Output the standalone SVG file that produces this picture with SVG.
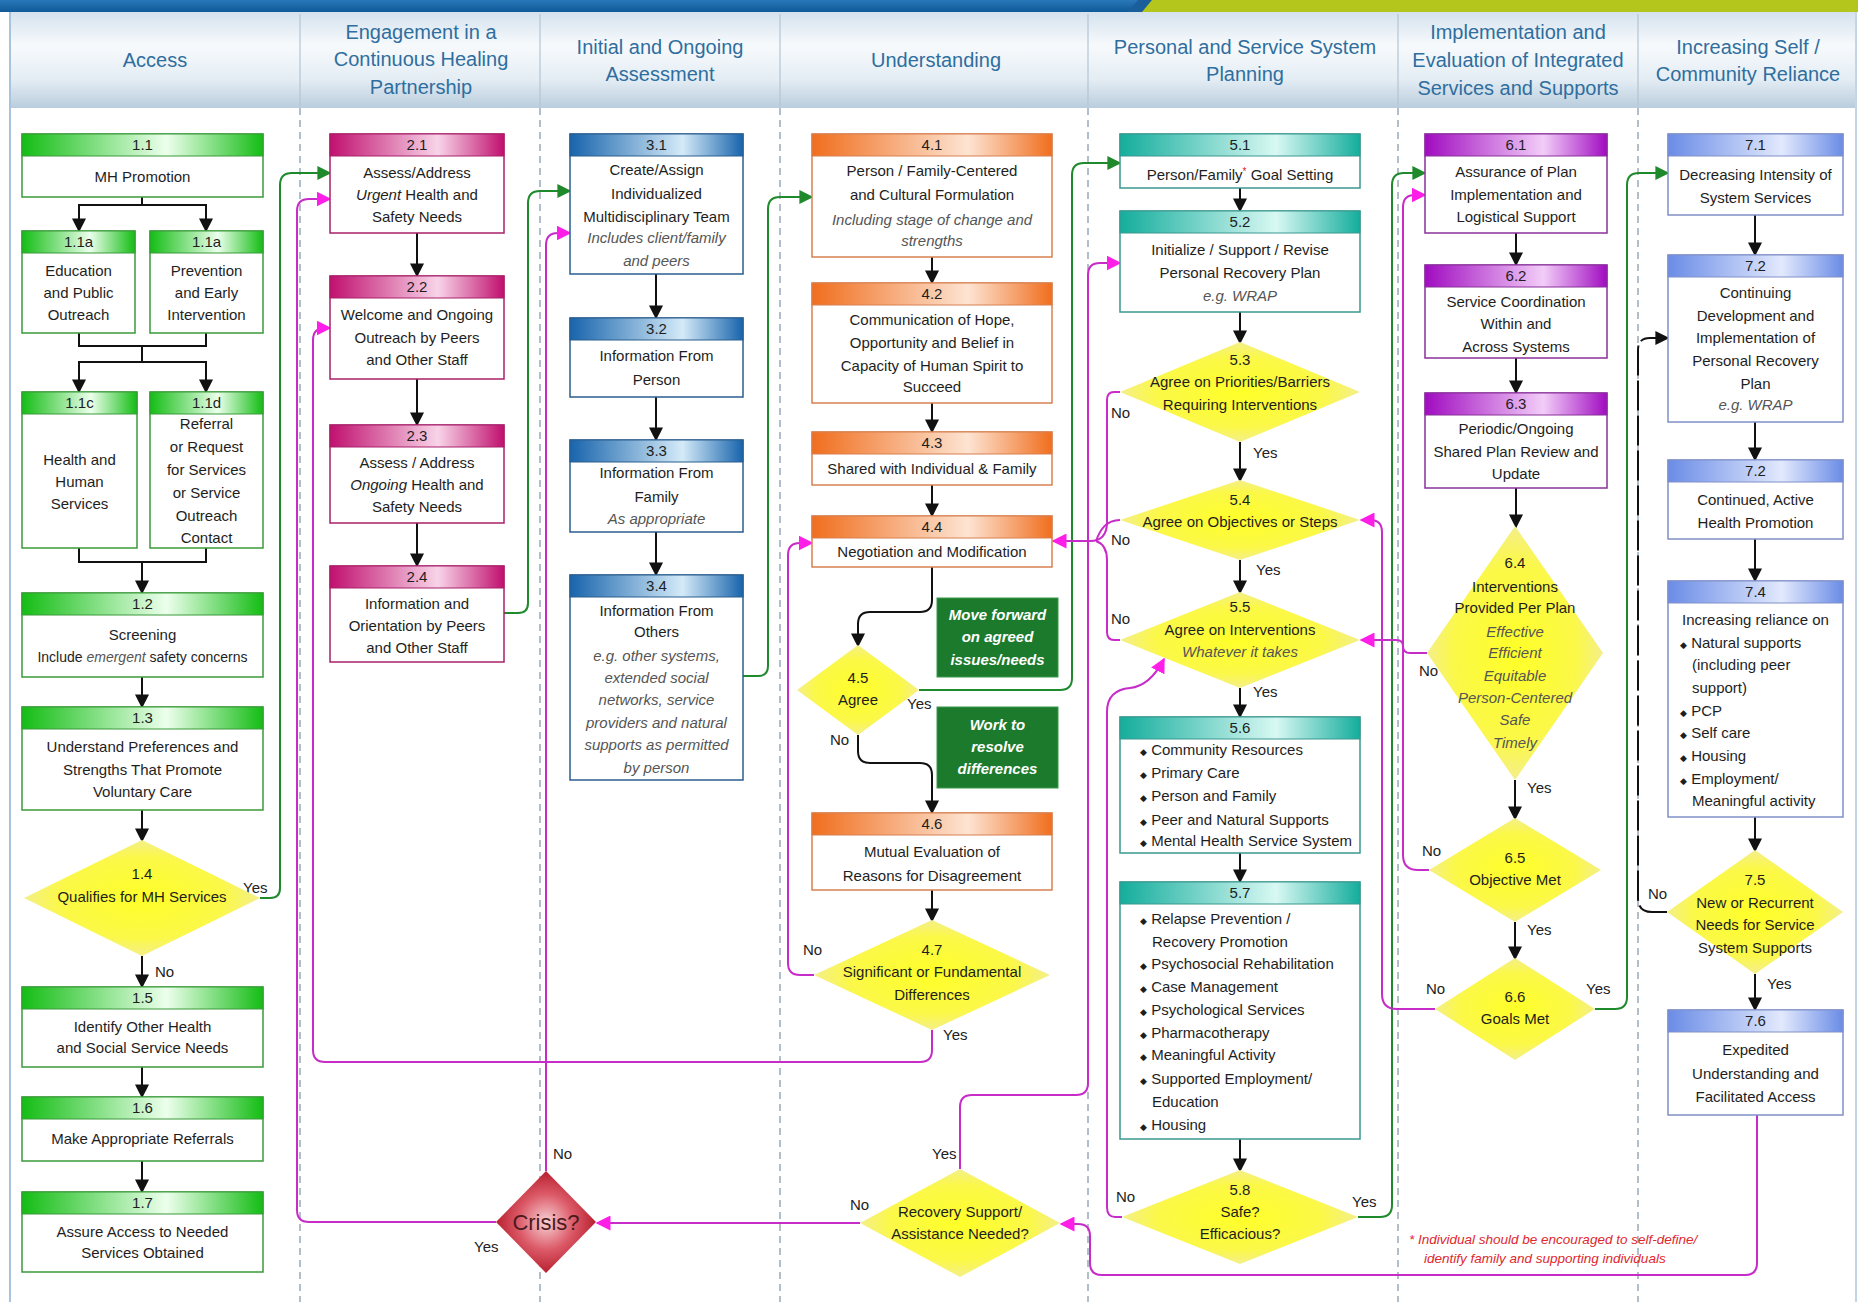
<svg xmlns="http://www.w3.org/2000/svg" width="1858" height="1302" viewBox="0 0 1858 1302">
<defs>
<linearGradient id="gHead" x1="0" y1="0" x2="0" y2="1"><stop offset="0" stop-color="#d4e2ee"/><stop offset="0.35" stop-color="#f7fafc"/><stop offset="0.7" stop-color="#e4edf4"/><stop offset="1" stop-color="#b9cddd"/></linearGradient>
<linearGradient id="gTop" x1="0" y1="0" x2="0" y2="1"><stop offset="0" stop-color="#2a78b8"/><stop offset="1" stop-color="#0f5a98"/></linearGradient>
<linearGradient id="gG" x1="0" y1="0" x2="1" y2="0"><stop offset="0" stop-color="#14bd14"/><stop offset="0.6" stop-color="#ecffec"/><stop offset="1" stop-color="#14bd14"/></linearGradient>
<linearGradient id="gM" x1="0" y1="0" x2="1" y2="0"><stop offset="0" stop-color="#c0106e"/><stop offset="0.62" stop-color="#f8d4e8"/><stop offset="1" stop-color="#c0106e"/></linearGradient>
<linearGradient id="gB" x1="0" y1="0" x2="1" y2="0"><stop offset="0" stop-color="#1864ac"/><stop offset="0.65" stop-color="#d4eaf8"/><stop offset="1" stop-color="#1864ac"/></linearGradient>
<linearGradient id="gO" x1="0" y1="0" x2="1" y2="0"><stop offset="0" stop-color="#f06e1e"/><stop offset="0.65" stop-color="#fde4d2"/><stop offset="1" stop-color="#f06e1e"/></linearGradient>
<linearGradient id="gT" x1="0" y1="0" x2="1" y2="0"><stop offset="0" stop-color="#14ad9c"/><stop offset="0.65" stop-color="#d8f8f3"/><stop offset="1" stop-color="#14ad9c"/></linearGradient>
<linearGradient id="gP" x1="0" y1="0" x2="1" y2="0"><stop offset="0" stop-color="#a00cc0"/><stop offset="0.65" stop-color="#f2cdf8"/><stop offset="1" stop-color="#a00cc0"/></linearGradient>
<linearGradient id="gL" x1="0" y1="0" x2="1" y2="0"><stop offset="0" stop-color="#6a8ce6"/><stop offset="0.65" stop-color="#e2e9fd"/><stop offset="1" stop-color="#6a8ce6"/></linearGradient>
<radialGradient id="gY" cx="0.5" cy="0.5" r="0.5"><stop offset="0" stop-color="#ffff28"/><stop offset="0.7" stop-color="#fbf848"/><stop offset="1" stop-color="#f4ef8a"/></radialGradient>
<radialGradient id="gR" cx="0.5" cy="0.5" r="0.5"><stop offset="0" stop-color="#f7d2d6"/><stop offset="0.55" stop-color="#dc5a68"/><stop offset="1" stop-color="#b8202f"/></radialGradient>
<marker id="ak" viewBox="0 0 10 10" refX="9" refY="5" markerWidth="14" markerHeight="14" markerUnits="userSpaceOnUse" orient="auto"><path d="M0,0 L10,5 L0,10 z" fill="#111"/></marker>
<marker id="ag" viewBox="0 0 10 10" refX="9" refY="5" markerWidth="14" markerHeight="14" markerUnits="userSpaceOnUse" orient="auto"><path d="M0,0 L10,5 L0,10 z" fill="#1e8a2c"/></marker>
<marker id="am" viewBox="0 0 10 10" refX="9" refY="5" markerWidth="15" markerHeight="15" markerUnits="userSpaceOnUse" orient="auto"><path d="M0,0 L10,5 L0,10 z" fill="#ff1ee8"/></marker>
<style>
.t{font-family:"Liberation Sans",Arial,sans-serif;font-size:15px;fill:#1e1e1e;text-anchor:middle}
.s{text-anchor:start}
.i{font-style:italic;fill:#555}
.h{font-family:"Liberation Sans",Arial,sans-serif;font-size:20px;fill:#2f6e9e;text-anchor:middle}
.lb{font-family:"Liberation Sans",Arial,sans-serif;font-size:15px;fill:#222}
.w{font-family:"Liberation Sans",Arial,sans-serif;font-size:15px;fill:#fff;font-weight:bold;font-style:italic;text-anchor:middle}
.fn{font-family:"Liberation Sans",Arial,sans-serif;font-size:13.5px;fill:#e0282c;font-style:italic}
.bx{fill:#fff;stroke-width:1.5}
.cg{stroke:#3a9a3a}.cm{stroke:#a8206a}.cb{stroke:#2a5e8e}.co{stroke:#d88050}.ct{stroke:#3a9890}.cp{stroke:#8a309a}.cl{stroke:#8090c8}
.dm{fill:url(#gY);stroke:none}
.sep{stroke:#9aa9bb;stroke-width:1.5;stroke-dasharray:7 5}
.k{fill:none;stroke:#111;stroke-width:2;marker-end:url(#ak)}
.kn{fill:none;stroke:#111;stroke-width:2}
.g{fill:none;stroke:#1e8a2c;stroke-width:2;marker-end:url(#ag)}
.m{fill:none;stroke:#c82cc8;stroke-width:2;marker-end:url(#am)}
.mn{fill:none;stroke:#c82cc8;stroke-width:2}
.bul{font-size:9px}
</style>
</defs>
<rect x="0" y="0" width="1858" height="1302" fill="#ffffff"/>
<g id="frame">
<rect x="0" y="0" width="1145" height="12" fill="url(#gTop)"/>
<polygon points="1145,0 1858,0 1858,12 1135,12" fill="#b4c61c"/>
<polygon points="1138,0 1152,0 1142,12 1128,12" fill="#1a5f9c"/>
<rect x="10" y="12" width="1846" height="96" fill="url(#gHead)"/>
<line x1="10" y1="12" x2="10" y2="1302" stroke="#a8c4dc" stroke-width="2"/>
<line x1="1856" y1="12" x2="1856" y2="1302" stroke="#c4d6e6" stroke-width="2"/>
<g stroke="#b4c4d4" stroke-width="1.2">
<line x1="300" y1="14" x2="300" y2="106"/><line x1="540" y1="14" x2="540" y2="106"/><line x1="780" y1="14" x2="780" y2="106"/><line x1="1088" y1="14" x2="1088" y2="106"/><line x1="1398" y1="14" x2="1398" y2="106"/><line x1="1638" y1="14" x2="1638" y2="106"/>
</g>
<line class="sep" x1="300" y1="108" x2="300" y2="1302"/><line class="sep" x1="540" y1="108" x2="540" y2="1302"/><line class="sep" x1="780" y1="108" x2="780" y2="1302"/><line class="sep" x1="1088" y1="108" x2="1088" y2="1302"/><line class="sep" x1="1398" y1="108" x2="1398" y2="1302"/><line class="sep" x1="1638" y1="108" x2="1638" y2="1302"/>
<text class="h" x="155" y="67">Access</text>
<text class="h" x="421" y="39">Engagement in a</text><text class="h" x="421" y="66">Continuous Healing</text><text class="h" x="421" y="94">Partnership</text>
<text class="h" x="660" y="54">Initial and Ongoing</text><text class="h" x="660" y="81">Assessment</text>
<text class="h" x="936" y="67">Understanding</text>
<text class="h" x="1245" y="54">Personal and Service System</text><text class="h" x="1245" y="81">Planning</text>
<text class="h" x="1518" y="39">Implementation and</text><text class="h" x="1518" y="67">Evaluation of Integrated</text><text class="h" x="1518" y="95">Services and Supports</text>
<text class="h" x="1748" y="54">Increasing Self /</text><text class="h" x="1748" y="81">Community Reliance</text>
</g>

<g id="connectors">
<path class="k" d="M142,197 V205 H79 V231"/>
<path class="k" d="M142,205 H206 V231"/>
<path class="kn" d="M79,333 V346 H142 M206,333 V346 H142 M142,346 V362"/>
<path class="k" d="M142,362 H79 V392"/>
<path class="k" d="M142,362 H206 V392"/>
<path class="kn" d="M79,548 V562 H142 M206,548 V562 H142"/>
<path class="k" d="M142,562 V593"/>
<path class="k" d="M142,677 V707"/>
<path class="k" d="M142,810 V841"/>
<path class="k" d="M142,956 V987"/>
<path class="k" d="M142,1067 V1097"/>
<path class="k" d="M142,1161 V1192"/>
<path class="k" d="M417,233 V276"/>
<path class="k" d="M417,379 V425"/>
<path class="k" d="M417,523 V566"/>
<path class="k" d="M656,274 V318"/>
<path class="k" d="M656,397 V440"/>
<path class="k" d="M656,532 V575"/>
<path class="k" d="M932,257 V283"/>
<path class="k" d="M932,403 V432"/>
<path class="k" d="M932,485 V516"/>
<path class="k" d="M932,567 V600 Q932,612 920,612 H870 Q858,612 858,624 V646"/>
<path class="k" d="M858,735 V751 Q858,763 870,763 H920 Q932,763 932,775 V813"/>
<path class="k" d="M932,890 V921"/>
<path class="k" d="M1240,188 V211"/>
<path class="k" d="M1240,312 V343"/>
<path class="k" d="M1240,442 V481"/>
<path class="k" d="M1240,560 V593"/>
<path class="k" d="M1240,688 V717"/>
<path class="k" d="M1240,853 V882"/>
<path class="k" d="M1240,1139 V1171"/>
<path class="k" d="M1516,233 V265"/>
<path class="k" d="M1516,358 V393"/>
<path class="k" d="M1516,488 V527"/>
<path class="k" d="M1515,780 V819"/>
<path class="k" d="M1515,922 V959"/>
<path class="k" d="M1755,215 V255"/>
<path class="k" d="M1755,422 V460"/>
<path class="k" d="M1755,539 V581"/>
<path class="k" d="M1755,817 V851"/>
<path class="k" d="M1755,974 V1010"/>
<path class="k" d="M1667,912 H1652 Q1638,912 1638,898 V350 Q1638,338 1650,338 H1668" stroke-dasharray="30 5"/>
<path class="g" d="M260,898 H270 Q280,898 280,888 V185 Q280,173 292,173 H330"/>
<path class="g" d="M504,613 H518 Q528,613 528,603 V203 Q528,191 540,191 H570"/>
<path class="g" d="M743,676 H758 Q768,676 768,666 V209 Q768,197 780,197 H812"/>
<path class="g" d="M919,690 H1060 Q1072,690 1072,678 V175 Q1072,163 1084,163 H1120"/>
<path class="g" d="M1358,1217 H1380 Q1392,1217 1392,1205 V185 Q1392,173 1404,173 H1425"/>
<path class="g" d="M1595,1009 H1615 Q1627,1009 1627,997 V185 Q1627,173 1639,173 H1668"/>
<path class="m" d="M932,1030 V1050 Q932,1062 920,1062 H325 Q313,1062 313,1050 V340 Q313,328 325,328 H330"/>
<path class="m" d="M496,1222 H309 Q297,1222 297,1210 V211 Q297,199 309,199 H330"/>
<path class="m" d="M546,1171 V245 Q546,233 558,233 H570"/>
<path class="m" d="M860,1223 H597"/>
<path class="m" d="M814,975 H800 Q788,975 788,963 V555 Q788,543 800,543 H812"/>
<path class="m" d="M960,1169 V1107 Q960,1095 972,1095 H1076 Q1088,1095 1088,1083 V275 Q1088,263 1100,263 H1120"/>
<path class="m" d="M1757,1115 V1263 Q1757,1275 1745,1275 H1102 Q1090,1275 1090,1263 V1236 Q1090,1224 1078,1224 H1061"/>
<path class="m" d="M1120,392 H1114 Q1107,392 1107,400 V522 Q1107,541 1090,541 H1053"/>
<path class="mn" d="M1120,520 C1106,520 1100,530 1096,541"/>
<path class="mn" d="M1120,640 H1114 Q1107,640 1107,632 V560 Q1107,545 1096,541"/>
<path class="m" d="M1122,1217 H1115 Q1107,1217 1107,1207 V712 Q1107,690 1130,688 Q1150,686 1164,659"/>
<path class="m" d="M1435,1009 H1397 Q1382,1009 1382,994 V532 Q1382,520 1370,520 H1361"/>
<path class="m" d="M1427,653 H1410 Q1403,653 1403,646 Q1403,640 1396,640 H1361"/>
<path class="m" d="M1429,870 H1418 Q1403,870 1403,855 V207 Q1403,195 1415,195 H1425"/>
</g>

<g id="labels">
<text class="lb" x="243" y="893">Yes</text>
<text class="lb" x="155" y="977">No</text>
<text class="lb" x="553" y="1159">No</text>
<text class="lb" x="474" y="1252">Yes</text>
<text class="lb" x="850" y="1210">No</text>
<text class="lb" x="932" y="1159">Yes</text>
<text class="lb" x="803" y="955">No</text>
<text class="lb" x="943" y="1040">Yes</text>
<text class="lb" x="907" y="709">Yes</text>
<text class="lb" x="830" y="745">No</text>
<text class="lb" x="1111" y="418">No</text>
<text class="lb" x="1253" y="458">Yes</text>
<text class="lb" x="1111" y="545">No</text>
<text class="lb" x="1256" y="575">Yes</text>
<text class="lb" x="1111" y="624">No</text>
<text class="lb" x="1253" y="697">Yes</text>
<text class="lb" x="1116" y="1202">No</text>
<text class="lb" x="1352" y="1207">Yes</text>
<text class="lb" x="1419" y="676">No</text>
<text class="lb" x="1527" y="793">Yes</text>
<text class="lb" x="1422" y="856">No</text>
<text class="lb" x="1527" y="935">Yes</text>
<text class="lb" x="1426" y="994">No</text>
<text class="lb" x="1586" y="994">Yes</text>
<text class="lb" x="1648" y="899">No</text>
<text class="lb" x="1767" y="989">Yes</text>
<text class="fn" x="1409" y="1244">* Individual should be encouraged to self-define/</text>
<text class="fn" x="1424" y="1263">identify family and supporting individuals</text>
</g>

<g id="n1-1"><rect class="bx cg" x="22" y="134" width="241" height="63"/><rect x="22" y="134" width="241" height="22" fill="url(#gG)" stroke="#3a9a3a"/><text class="t" x="142.5" y="150">1.1</text><text class="t" x="142.5" y="182">MH Promotion</text></g>
<g id="n1-1a"><rect class="bx cg" x="22" y="231" width="113" height="102"/><rect x="22" y="231" width="113" height="22" fill="url(#gG)" stroke="#3a9a3a"/><text class="t" x="78.5" y="247">1.1a</text><text class="t" x="78.5" y="276">Education</text><text class="t" x="78.5" y="298">and Public</text><text class="t" x="78.5" y="320">Outreach</text></g>
<g id="n1-1b"><rect class="bx cg" x="150" y="231" width="113" height="102"/><rect x="150" y="231" width="113" height="22" fill="url(#gG)" stroke="#3a9a3a"/><text class="t" x="206.5" y="247">1.1a</text><text class="t" x="206.5" y="276">Prevention</text><text class="t" x="206.5" y="298">and Early</text><text class="t" x="206.5" y="320">Intervention</text></g>
<g id="n1-1c"><rect class="bx cg" x="22" y="392" width="115" height="156"/><rect x="22" y="392" width="115" height="22" fill="url(#gG)" stroke="#3a9a3a"/><text class="t" x="79.5" y="408">1.1c</text><text class="t" x="79.5" y="465">Health and</text><text class="t" x="79.5" y="487">Human</text><text class="t" x="79.5" y="509">Services</text></g>
<g id="n1-1d"><rect class="bx cg" x="150" y="392" width="113" height="156"/><rect x="150" y="392" width="113" height="22" fill="url(#gG)" stroke="#3a9a3a"/><text class="t" x="206.5" y="408">1.1d</text><text class="t" x="206.5" y="429">Referral</text><text class="t" x="206.5" y="452">or Request</text><text class="t" x="206.5" y="475">for Services</text><text class="t" x="206.5" y="498">or Service</text><text class="t" x="206.5" y="521">Outreach</text><text class="t" x="206.5" y="543">Contact</text></g>
<g id="n1-2"><rect class="bx cg" x="22" y="593" width="241" height="84"/><rect x="22" y="593" width="241" height="22" fill="url(#gG)" stroke="#3a9a3a"/><text class="t" x="142.5" y="609">1.2</text><text class="t" x="142.5" y="640">Screening</text><text class="t" x="142.5" y="662" style="font-size:14px">Include <tspan class="i">emergent</tspan> safety concerns</text></g>
<g id="n1-3"><rect class="bx cg" x="22" y="707" width="241" height="103"/><rect x="22" y="707" width="241" height="22" fill="url(#gG)" stroke="#3a9a3a"/><text class="t" x="142.5" y="723">1.3</text><text class="t" x="142.5" y="752">Understand Preferences and</text><text class="t" x="142.5" y="775">Strengths That Promote</text><text class="t" x="142.5" y="797">Voluntary Care</text></g>
<g id="n1-4"><polygon class="dm" points="142,840 260,898 142,956 24,898"/><text class="t" x="142" y="879">1.4</text><text class="t" x="142" y="902">Qualifies for MH Services</text></g>
<g id="n1-5"><rect class="bx cg" x="22" y="987" width="241" height="80"/><rect x="22" y="987" width="241" height="22" fill="url(#gG)" stroke="#3a9a3a"/><text class="t" x="142.5" y="1003">1.5</text><text class="t" x="142.5" y="1032">Identify Other Health</text><text class="t" x="142.5" y="1053">and Social Service Needs</text></g>
<g id="n1-6"><rect class="bx cg" x="22" y="1097" width="241" height="64"/><rect x="22" y="1097" width="241" height="22" fill="url(#gG)" stroke="#3a9a3a"/><text class="t" x="142.5" y="1113">1.6</text><text class="t" x="142.5" y="1144">Make Appropriate Referrals</text></g>
<g id="n1-7"><rect class="bx cg" x="22" y="1192" width="241" height="80"/><rect x="22" y="1192" width="241" height="22" fill="url(#gG)" stroke="#3a9a3a"/><text class="t" x="142.5" y="1208">1.7</text><text class="t" x="142.5" y="1237">Assure Access to Needed</text><text class="t" x="142.5" y="1258">Services Obtained</text></g>

<g id="n2-1"><rect class="bx cm" x="330" y="134" width="174" height="99"/><rect x="330" y="134" width="174" height="22" fill="url(#gM)" stroke="#a8206a"/><text class="t" x="417" y="150">2.1</text><text class="t" x="417" y="178">Assess/Address</text><text class="t" x="417" y="200"><tspan font-style="italic">Urgent</tspan> Health and</text><text class="t" x="417" y="222">Safety Needs</text></g>
<g id="n2-2"><rect class="bx cm" x="330" y="276" width="174" height="103"/><rect x="330" y="276" width="174" height="22" fill="url(#gM)" stroke="#a8206a"/><text class="t" x="417" y="292">2.2</text><text class="t" x="417" y="320">Welcome and Ongoing</text><text class="t" x="417" y="343">Outreach by Peers</text><text class="t" x="417" y="365">and Other Staff</text></g>
<g id="n2-3"><rect class="bx cm" x="330" y="425" width="174" height="98"/><rect x="330" y="425" width="174" height="22" fill="url(#gM)" stroke="#a8206a"/><text class="t" x="417" y="441">2.3</text><text class="t" x="417" y="468">Assess / Address</text><text class="t" x="417" y="490"><tspan font-style="italic">Ongoing</tspan> Health and</text><text class="t" x="417" y="512">Safety Needs</text></g>
<g id="n2-4"><rect class="bx cm" x="330" y="566" width="174" height="96"/><rect x="330" y="566" width="174" height="22" fill="url(#gM)" stroke="#a8206a"/><text class="t" x="417" y="582">2.4</text><text class="t" x="417" y="609">Information and</text><text class="t" x="417" y="631">Orientation by Peers</text><text class="t" x="417" y="653">and Other Staff</text></g>
<g id="crisis"><polygon points="546,1171 596,1222 546,1273 496,1222" fill="url(#gR)"/><text class="t" x="546" y="1230" style="font-size:22px;fill:#4a1a20">Crisis?</text></g>

<g id="n3-1"><rect class="bx cb" x="570" y="134" width="173" height="140"/><rect x="570" y="134" width="173" height="22" fill="url(#gB)" stroke="#2a5e8e"/><text class="t" x="656.5" y="150">3.1</text><text class="t" x="656.5" y="175">Create/Assign</text><text class="t" x="656.5" y="199">Individualized</text><text class="t" x="656.5" y="222">Multidisciplinary Team</text><text class="t i" x="656.5" y="243">Includes client/family</text><text class="t i" x="656.5" y="266">and peers</text></g>
<g id="n3-2"><rect class="bx cb" x="570" y="318" width="173" height="79"/><rect x="570" y="318" width="173" height="22" fill="url(#gB)" stroke="#2a5e8e"/><text class="t" x="656.5" y="334">3.2</text><text class="t" x="656.5" y="361">Information From</text><text class="t" x="656.5" y="385">Person</text></g>
<g id="n3-3"><rect class="bx cb" x="570" y="440" width="173" height="92"/><rect x="570" y="440" width="173" height="22" fill="url(#gB)" stroke="#2a5e8e"/><text class="t" x="656.5" y="456">3.3</text><text class="t" x="656.5" y="478">Information From</text><text class="t" x="656.5" y="502">Family</text><text class="t i" x="656.5" y="524">As appropriate</text></g>
<g id="n3-4"><rect class="bx cb" x="570" y="575" width="173" height="205"/><rect x="570" y="575" width="173" height="22" fill="url(#gB)" stroke="#2a5e8e"/><text class="t" x="656.5" y="591">3.4</text><text class="t" x="656.5" y="616">Information From</text><text class="t" x="656.5" y="637">Others</text><text class="t i" x="656.5" y="661">e.g. other systems,</text><text class="t i" x="656.5" y="683">extended social</text><text class="t i" x="656.5" y="705">networks, service</text><text class="t i" x="656.5" y="728">providers and natural</text><text class="t i" x="656.5" y="750">supports as permitted</text><text class="t i" x="656.5" y="773">by person</text></g>

<g id="n4-1"><rect class="bx co" x="812" y="134" width="240" height="123"/><rect x="812" y="134" width="240" height="22" fill="url(#gO)" stroke="#d88050"/><text class="t" x="932" y="150">4.1</text><text class="t" x="932" y="176">Person / Family-Centered</text><text class="t" x="932" y="200">and Cultural Formulation</text><text class="t i" x="932" y="225">Including stage of change and</text><text class="t i" x="932" y="246">strengths</text></g>
<g id="n4-2"><rect class="bx co" x="812" y="283" width="240" height="120"/><rect x="812" y="283" width="240" height="22" fill="url(#gO)" stroke="#d88050"/><text class="t" x="932" y="299">4.2</text><text class="t" x="932" y="325">Communication of Hope,</text><text class="t" x="932" y="348">Opportunity and Belief in</text><text class="t" x="932" y="371">Capacity of Human Spirit to</text><text class="t" x="932" y="392">Succeed</text></g>
<g id="n4-3"><rect class="bx co" x="812" y="432" width="240" height="53"/><rect x="812" y="432" width="240" height="22" fill="url(#gO)" stroke="#d88050"/><text class="t" x="932" y="448">4.3</text><text class="t" x="932" y="474">Shared with Individual &amp; Family</text></g>
<g id="n4-4"><rect class="bx co" x="812" y="516" width="240" height="51"/><rect x="812" y="516" width="240" height="22" fill="url(#gO)" stroke="#d88050"/><text class="t" x="932" y="532">4.4</text><text class="t" x="932" y="557">Negotiation and Modification</text></g>
<g id="n4-5"><polygon class="dm" points="858,645 919,690 858,735 797,690"/><text class="t" x="858" y="683">4.5</text><text class="t" x="858" y="705">Agree</text></g>
<g id="note-move"><rect x="937" y="598" width="121" height="79" fill="#1b7a2b" stroke="#3a9a4a"/><text class="w" x="997.5" y="620">Move forward</text><text class="w" x="997.5" y="642">on agreed</text><text class="w" x="997.5" y="665">issues/needs</text></g>
<g id="note-work"><rect x="937" y="707" width="121" height="81" fill="#1b7a2b" stroke="#3a9a4a"/><text class="w" x="997.5" y="730">Work to</text><text class="w" x="997.5" y="752">resolve</text><text class="w" x="997.5" y="774">differences</text></g>
<g id="n4-6"><rect class="bx co" x="812" y="813" width="240" height="77"/><rect x="812" y="813" width="240" height="22" fill="url(#gO)" stroke="#d88050"/><text class="t" x="932" y="829">4.6</text><text class="t" x="932" y="857">Mutual Evaluation of</text><text class="t" x="932" y="881">Reasons for Disagreement</text></g>
<g id="n4-7"><polygon class="dm" points="932,920 1050,975 932,1030 814,975"/><text class="t" x="932" y="955">4.7</text><text class="t" x="932" y="977">Significant or Fundamental</text><text class="t" x="932" y="1000">Differences</text></g>
<g id="recovery"><polygon class="dm" points="960,1169 1060,1223 960,1277 860,1223"/><text class="t" x="960" y="1217">Recovery Support/</text><text class="t" x="960" y="1239">Assistance Needed?</text></g>

<g id="n5-1"><rect class="bx ct" x="1120" y="134" width="240" height="54"/><rect x="1120" y="134" width="240" height="22" fill="url(#gT)" stroke="#3a9890"/><text class="t" x="1240" y="150">5.1</text><text class="t" x="1240" y="180">Person/Family<tspan fill="#e02020" font-size="10" dy="-5">*</tspan><tspan dy="5"> Goal Setting</tspan></text></g>
<g id="n5-2"><rect class="bx ct" x="1120" y="211" width="240" height="101"/><rect x="1120" y="211" width="240" height="22" fill="url(#gT)" stroke="#3a9890"/><text class="t" x="1240" y="227">5.2</text><text class="t" x="1240" y="255">Initialize / Support / Revise</text><text class="t" x="1240" y="278">Personal Recovery Plan</text><text class="t i" x="1240" y="301">e.g.  WRAP</text></g>
<g id="n5-3"><polygon class="dm" points="1240,342 1360,392 1240,442 1120,392"/><text class="t" x="1240" y="365">5.3</text><text class="t" x="1240" y="387">Agree on Priorities/Barriers</text><text class="t" x="1240" y="410">Requiring Interventions</text></g>
<g id="n5-4"><polygon class="dm" points="1240,480 1360,520 1240,560 1120,520"/><text class="t" x="1240" y="505">5.4</text><text class="t" x="1240" y="527">Agree on Objectives or Steps</text></g>
<g id="n5-5"><polygon class="dm" points="1240,592 1360,640 1240,688 1120,640"/><text class="t" x="1240" y="612">5.5</text><text class="t" x="1240" y="635">Agree on Interventions</text><text class="t i" x="1240" y="657">Whatever it takes</text></g>
<g id="n5-6"><rect class="bx ct" x="1120" y="717" width="240" height="136"/><rect x="1120" y="717" width="240" height="22" fill="url(#gT)" stroke="#3a9890"/><text class="t" x="1240" y="733">5.6</text>
<text class="t s" x="1140" y="755"><tspan class="bul">◆</tspan> Community Resources</text><text class="t s" x="1140" y="778"><tspan class="bul">◆</tspan> Primary Care</text><text class="t s" x="1140" y="801"><tspan class="bul">◆</tspan> Person and Family</text><text class="t s" x="1140" y="825"><tspan class="bul">◆</tspan> Peer and Natural Supports</text><text class="t s" x="1140" y="846"><tspan class="bul">◆</tspan> Mental Health Service System</text></g>
<g id="n5-7"><rect class="bx ct" x="1120" y="882" width="240" height="257"/><rect x="1120" y="882" width="240" height="22" fill="url(#gT)" stroke="#3a9890"/><text class="t" x="1240" y="898">5.7</text>
<text class="t s" x="1140" y="924"><tspan class="bul">◆</tspan> Relapse Prevention /</text><text class="t s" x="1152" y="947">Recovery Promotion</text><text class="t s" x="1140" y="969"><tspan class="bul">◆</tspan> Psychosocial Rehabilitation</text><text class="t s" x="1140" y="992"><tspan class="bul">◆</tspan> Case Management</text><text class="t s" x="1140" y="1015"><tspan class="bul">◆</tspan> Psychological Services</text><text class="t s" x="1140" y="1038"><tspan class="bul">◆</tspan> Pharmacotherapy</text><text class="t s" x="1140" y="1060"><tspan class="bul">◆</tspan> Meaningful Activity</text><text class="t s" x="1140" y="1084"><tspan class="bul">◆</tspan> Supported Employment/</text><text class="t s" x="1152" y="1107">Education</text><text class="t s" x="1140" y="1130"><tspan class="bul">◆</tspan> Housing</text></g>
<g id="n5-8"><polygon class="dm" points="1240,1170 1358,1217 1240,1264 1122,1217"/><text class="t" x="1240" y="1195">5.8</text><text class="t" x="1240" y="1217">Safe?</text><text class="t" x="1240" y="1239">Efficacious?</text></g>

<g id="n6-1"><rect class="bx cp" x="1425" y="134" width="182" height="99"/><rect x="1425" y="134" width="182" height="22" fill="url(#gP)" stroke="#8a309a"/><text class="t" x="1516" y="150">6.1</text><text class="t" x="1516" y="177">Assurance of Plan</text><text class="t" x="1516" y="200">Implementation and</text><text class="t" x="1516" y="222">Logistical Support</text></g>
<g id="n6-2"><rect class="bx cp" x="1425" y="265" width="182" height="93"/><rect x="1425" y="265" width="182" height="22" fill="url(#gP)" stroke="#8a309a"/><text class="t" x="1516" y="281">6.2</text><text class="t" x="1516" y="307">Service Coordination</text><text class="t" x="1516" y="329">Within and</text><text class="t" x="1516" y="352">Across Systems</text></g>
<g id="n6-3"><rect class="bx cp" x="1425" y="393" width="182" height="95"/><rect x="1425" y="393" width="182" height="22" fill="url(#gP)" stroke="#8a309a"/><text class="t" x="1516" y="409">6.3</text><text class="t" x="1516" y="434">Periodic/Ongoing</text><text class="t" x="1516" y="457">Shared Plan Review and</text><text class="t" x="1516" y="479">Update</text></g>
<g id="n6-4"><polygon class="dm" points="1515,526 1603,653 1515,780 1427,653"/><text class="t" x="1515" y="568">6.4</text><text class="t" x="1515" y="592">Interventions</text><text class="t" x="1515" y="613">Provided Per Plan</text><text class="t i" x="1515" y="637">Effective</text><text class="t i" x="1515" y="658">Efficient</text><text class="t i" x="1515" y="681">Equitable</text><text class="t i" x="1515" y="703">Person-Centered</text><text class="t i" x="1515" y="725">Safe</text><text class="t i" x="1515" y="748">Timely</text></g>
<g id="n6-5"><polygon class="dm" points="1515,818 1601,870 1515,922 1429,870"/><text class="t" x="1515" y="863">6.5</text><text class="t" x="1515" y="885">Objective Met</text></g>
<g id="n6-6"><polygon class="dm" points="1515,958 1595,1009 1515,1060 1435,1009"/><text class="t" x="1515" y="1002">6.6</text><text class="t" x="1515" y="1024">Goals Met</text></g>

<g id="n7-1"><rect class="bx cl" x="1668" y="134" width="175" height="81"/><rect x="1668" y="134" width="175" height="22" fill="url(#gL)" stroke="#8090c8"/><text class="t" x="1755.5" y="150">7.1</text><text class="t" x="1755.5" y="180">Decreasing Intensity of</text><text class="t" x="1755.5" y="203">System Services</text></g>
<g id="n7-2"><rect class="bx cl" x="1668" y="255" width="175" height="167"/><rect x="1668" y="255" width="175" height="22" fill="url(#gL)" stroke="#8090c8"/><text class="t" x="1755.5" y="271">7.2</text><text class="t" x="1755.5" y="298">Continuing</text><text class="t" x="1755.5" y="321">Development and</text><text class="t" x="1755.5" y="343">Implementation of</text><text class="t" x="1755.5" y="366">Personal Recovery</text><text class="t" x="1755.5" y="389">Plan</text><text class="t i" x="1755.5" y="410">e.g.  WRAP</text></g>
<g id="n7-2b"><rect class="bx cl" x="1668" y="460" width="175" height="79"/><rect x="1668" y="460" width="175" height="22" fill="url(#gL)" stroke="#8090c8"/><text class="t" x="1755.5" y="476">7.2</text><text class="t" x="1755.5" y="505">Continued, Active</text><text class="t" x="1755.5" y="528">Health Promotion</text></g>
<g id="n7-4"><rect class="bx cl" x="1668" y="581" width="175" height="236"/><rect x="1668" y="581" width="175" height="22" fill="url(#gL)" stroke="#8090c8"/><text class="t" x="1755.5" y="597">7.4</text><text class="t" x="1755.5" y="625">Increasing reliance on</text>
<text class="t s" x="1680" y="648"><tspan class="bul">◆</tspan> Natural supports</text><text class="t s" x="1692" y="670">(including peer</text><text class="t s" x="1692" y="693">support)</text><text class="t s" x="1680" y="716"><tspan class="bul">◆</tspan> PCP</text><text class="t s" x="1680" y="738"><tspan class="bul">◆</tspan> Self care</text><text class="t s" x="1680" y="761"><tspan class="bul">◆</tspan> Housing</text><text class="t s" x="1680" y="784"><tspan class="bul">◆</tspan> Employment/</text><text class="t s" x="1692" y="806">Meaningful activity</text></g>
<g id="n7-5"><polygon class="dm" points="1755,850 1843,912 1755,974 1667,912"/><text class="t" x="1755" y="885">7.5</text><text class="t" x="1755" y="908">New or Recurrent</text><text class="t" x="1755" y="930">Needs for Service</text><text class="t" x="1755" y="953">System Supports</text></g>
<g id="n7-6"><rect class="bx cl" x="1668" y="1010" width="175" height="105"/><rect x="1668" y="1010" width="175" height="22" fill="url(#gL)" stroke="#8090c8"/><text class="t" x="1755.5" y="1026">7.6</text><text class="t" x="1755.5" y="1055">Expedited</text><text class="t" x="1755.5" y="1079">Understanding and</text><text class="t" x="1755.5" y="1102">Facilitated Access</text></g>
</svg>
